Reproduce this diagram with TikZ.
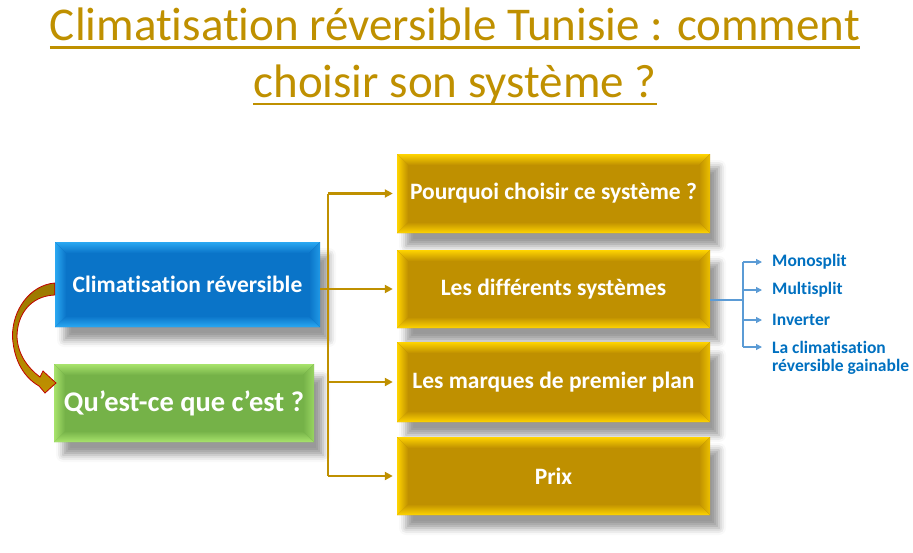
\documentclass[tikz,border=0pt]{standalone}
\usepackage{fontspec}
\setmainfont[Ligatures=NoCommon]{Carlito}
\usetikzlibrary{arrows.meta,shadows.blur,calc}
\definecolor{gold}{HTML}{BF9000}
\definecolor{goldlight}{HTML}{FFD400}
\definecolor{bluemain}{HTML}{0A74C8}
\definecolor{bluelight}{HTML}{2AA8F2}
\definecolor{greenmain}{HTML}{75B248}
\definecolor{greenlight}{HTML}{A8E36C}
\definecolor{subline}{HTML}{5B9BD5}
\definecolor{subtext}{HTML}{0070C0}
\definecolor{arrowred}{HTML}{C00000}
\definecolor{olive}{HTML}{9A7800}
\tikzset{
  bevel/.style 2 args={rectangle, fill=#1, text=white, inner sep=0pt,
    font=\bfseries\fontsize{23.5}{28}\selectfont,
    blur shadow={shadow xshift=9pt, shadow yshift=-13pt, shadow blur radius=7pt, shadow opacity=40},
    path picture={
      \path (path picture bounding box.north west) coordinate (pnw)
            (path picture bounding box.north east) coordinate (pne)
            (path picture bounding box.south west) coordinate (psw)
            (path picture bounding box.south east) coordinate (pse);
      \fill[top color=#2, bottom color=#1] (pnw) -- (pne) -- ($(pne)+(-11pt,-11pt)$) -- ($(pnw)+(11pt,-11pt)$) -- cycle;
      \fill[bottom color=#2, top color=#1] (psw) -- (pse) -- ($(pse)+(-11pt,11pt)$) -- ($(psw)+(11pt,11pt)$) -- cycle;
      \fill[left color=#2, right color=#1] (pnw) -- ($(pnw)+(11pt,-11pt)$) -- ($(psw)+(11pt,11pt)$) -- (psw) -- cycle;
      \fill[right color=#2!70!#1, left color=#1] (pne) -- ($(pne)+(-11pt,-11pt)$) -- ($(pse)+(-11pt,11pt)$) -- (pse) -- cycle;
    }},
  goldbox/.style={bevel={gold}{goldlight}, minimum width=313pt},
  goldline/.style={draw=gold, line width=2.4pt},
  goldarrow/.style={goldline, -{Triangle[length=8pt,width=8pt]}, shorten >=4pt},
  subarrow/.style={draw=subline, line width=1.2pt, -{Triangle[length=6pt,width=6pt]}, shorten >=10pt},
  subitem/.style={text=subtext, font=\bfseries\fontsize{17.5}{20}\selectfont, inner sep=0pt, anchor=west},
  titletext/.style={text=gold, font=\fontsize{47}{54}\selectfont, inner sep=0pt, anchor=base},
}
\begin{document}
\begin{tikzpicture}[x=1pt, y=-1pt]
\useasboundingbox (0,0) rectangle (913,552);
% title
\node[titletext] (t1) at (455,40) {Climatisation réversible Tunisie : comment};
\node[titletext] (t2) at (455,97) {choisir son système ?};
\draw[gold, line width=2.4pt] ([yshift=-7.5pt]t1.base west) -- ([yshift=-7.5pt]t1.base east);
\draw[gold, line width=2.4pt] ([yshift=-7pt]t2.base west) -- ([yshift=-7pt]t2.base east);
% left boxes
\node[bevel={bluemain}{bluelight}, minimum width=265pt, minimum height=85pt] (cr) at (187.5,284.5) {Climatisation réversible};
\node[bevel={greenmain}{greenlight}, minimum width=260pt, minimum height=78pt, font=\bfseries\fontsize{28.5}{32}\selectfont] (qc) at (184,403) {Qu’est-ce que c’est ?};
% gold boxes
\node[goldbox, minimum height=79pt] (g1) at (553.5,193.5) {Pourquoi choisir ce système ?};
\node[goldbox, minimum height=78pt] (g2) at (553.5,289) {Les différents systèmes};
\node[goldbox, minimum height=80pt] (g3) at (553.5,382) {Les marques de premier plan};
\node[goldbox, minimum height=78pt] (g4) at (553.5,476) {Prix};
% gold connectors
\coordinate (j) at (328,0);
\draw[goldline] (j |- g1.west) -- (j |- g4.west);
\draw[goldarrow] (cr.east |- g2.west) -- (g2.west);
\draw[goldarrow] (j |- g1.west) -- (g1.west);
\draw[goldarrow] (j |- g3.west) -- (g3.west);
\draw[goldarrow] (j |- g4.west) -- (g4.west);
% curved block arrow
\path[top color=olive, bottom color=gold, draw=arrowred, line width=0.8pt]
  (cr.west |- 0,283) .. controls (30,285) and (12,310) .. (12.5,337)
  .. controls (14,362) and (25,378) .. (39,386)
  -- (45,393) -- (56,383) -- (43,371) -- (40,377)
  .. controls (28,368) and (18,355) .. (17,337)
  .. controls (17,315) and (30,296) .. (cr.west |- 0,295) -- cycle;
% sub items
\node[subitem] (m1) at (772,262) {Monosplit};
\node[subitem] (m2) at (772,290) {Multisplit};
\node[subitem] (m3) at (772,320) {Inverter};
\node[subitem] (m4) at (772,347) {La climatisation};
\node[subitem] (m5) at (772,367) {réversible gainable};
\coordinate (s) at (743,300);
\draw[subline, line width=1.2pt] ([yshift=-11pt]g2.east) -- (s);
\draw[subline, line width=1.2pt] (s |- m1.west) -- (s |- m4.west);
\draw[subarrow] (s |- m1.west) -- (m1.west);
\draw[subarrow] (s |- m2.west) -- (m2.west);
\draw[subarrow] (s |- m3.west) -- (m3.west);
\draw[subarrow] (s |- m4.west) -- (m4.west);
\end{tikzpicture}
\end{document}
